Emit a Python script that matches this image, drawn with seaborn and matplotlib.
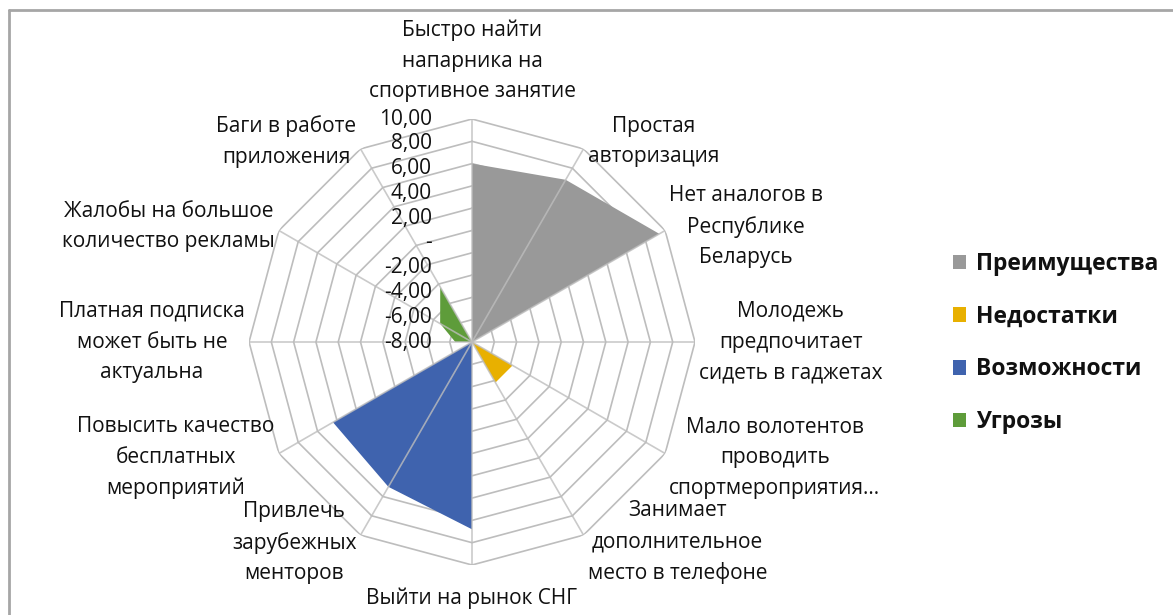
import numpy as np
import matplotlib
matplotlib.use("Agg")
import matplotlib.pyplot as plt
from matplotlib.patches import Patch
import seaborn as sns

categories = [
    "Быстро найти\nнапарника на\nспортивное занятие",
    "Простая\nавторизация",
    "Нет аналогов в\nРеспублике\nБеларусь",
    "Молодежь\nпредпочитает\nсидеть в гаджетах",
    "Мало волотентов\nпроводить\nспортмероприятия…",
    "Занимает\nдополнительное\nместо в телефоне",
    "Выйти на рынок СНГ",
    "Привлечь\nзарубежных\nменторов",
    "Повысить качество\nбесплатных\nмероприятий",
    "Платная подписка\nможет быть не\nактуальна",
    "Жалобы на большое\nколичество рекламы",
    "Баги в работе\nприложения",
]

# -10 = axis minimum (centre of the chart)
strengths = [6.0, 6.8, 9.4, -10, -10, -10, -10, -10, -10, -10, -10, -10]
weaknesses = [-10, -10, -10, -10, -5.8, -5.8, -10, -10, -10, -10, -10, -10]
opportunities = [-10, -10, -10, -10, -10, -10, 6.8, 5.0, 4.4, -10, -10, -10]
threats = [-10, -10, -10, -10, -10, -10, -10, -10, -10, -8.5, -6.7, -4.3]

series_names = ["Преимущества", "Недостатки", "Возможности", "Угрозы"]
series_colors = ["#999999", "#E8B000", "#3F63AE", "#5E9C3A"]

ring_values = [-8, -6, -4, -2, 0, 2, 4, 6, 8, 10]
tick_labels = ["10,00", "8,00", "6,00", "4,00", "2,00", "-", "-2,00", "-4,00", "-6,00", "-8,00"]

sns.set_theme(style="white")
plt.rcParams["font.family"] = ["Open Sans", "DejaVu Sans"]

fig = plt.figure(figsize=(11.73, 6.15), dpi=100)
ax = fig.add_axes([0.2123, 0.0813, 0.3802, 0.7252], projection="polar")
ax.set_theta_zero_location("N")
ax.set_theta_direction(-1)
ax.set_ylim(-10, 10)
ax.set_xticks([])
ax.set_yticks([])
ax.grid(False)
ax.spines["polar"].set_visible(False)
ax.set_facecolor("none")

n = len(categories)
theta = np.linspace(0, 2 * np.pi, n, endpoint=False)
theta_closed = np.append(theta, theta[0])

grid_color = "#bdbdbd"
for v in ring_values:
    ax.plot(theta_closed, [v] * (n + 1), color=grid_color, lw=1.2, zorder=1)

all_series = [strengths, weaknesses, opportunities, threats]
for vals, col in zip(all_series, series_colors):
    vc = np.append(vals, vals[0])
    ax.fill(theta_closed, vc, color=col, lw=0, zorder=2)

for t in theta:
    ax.plot([t, t], [-10, 10], color=grid_color, lw=1.2, zorder=3, alpha=0.8)

# value axis labels, Excel spreads them along the vertical spoke
label_r = np.linspace(10, -10, len(tick_labels))
for r, lbl in zip(label_r, tick_labels):
    ax.annotate(lbl, xy=(0, r), xytext=(-28.8, 0), textcoords="offset points",
                ha="right", va="center", fontsize=15, color="#111111", zorder=5,
                annotation_clip=False)

# category labels
for t, lbl in zip(theta, categories):
    s, c = np.sin(t), np.cos(t)
    if abs(s) < 0.1:
        ha = "center"
        va = "bottom" if c > 0 else "top"
        dx, dy = 0, (12 if c > 0 else -16)
    else:
        ha = "left" if s > 0 else "right"
        va = "center"
        dx, dy = 3 * np.sign(s), 6 * c
    ax.annotate(lbl, xy=(t, 10), xytext=(dx, dy), textcoords="offset points",
                ha=ha, va=va, multialignment="center", fontsize=15,
                color="#111111", linespacing=1.6, annotation_clip=False)

handles = [Patch(facecolor=c, edgecolor="none") for c in series_colors]
fig.legend(handles, series_names, loc="center left",
           bbox_to_anchor=(932 / 1173, 1 - 343 / 615), frameon=False,
           handlelength=0.6, handleheight=0.6, handletextpad=0.4,
           labelspacing=1.25, labelcolor="#111111",
           prop={"weight": "bold", "size": 16.5})

# chart border (top and left visible in the crop)
fig.add_artist(plt.Line2D([9 / 1173, 9 / 1173], [0, 1 - 10 / 615],
                          transform=fig.transFigure, color="#a6a6a6", lw=2))
fig.add_artist(plt.Line2D([9 / 1173, 1], [1 - 10 / 615, 1 - 10 / 615],
                          transform=fig.transFigure, color="#a6a6a6", lw=2))

fig.savefig("out.png", dpi=100)
